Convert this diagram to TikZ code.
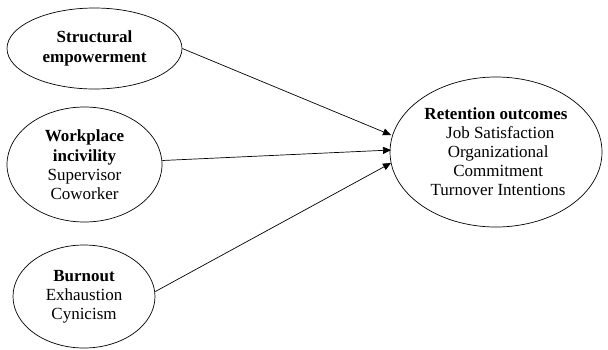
\documentclass[tikz,border=0pt]{standalone}
\usepackage{fontspec}
\setmainfont{Liberation Serif}
\usetikzlibrary{shapes.geometric,arrows.meta}
\begin{document}
\begin{tikzpicture}[x=1pt,y=-1pt,
  oval/.style={draw,ellipse,line width=0.7pt,inner sep=0pt,align=center,
    font=\fontsize{17}{19}\selectfont},
  link/.style={line width=0.7pt,-{Triangle[length=8pt,width=7pt]}}]
\useasboundingbox (0,0) rectangle (608,349);
\node[oval,minimum width=175pt,minimum height=81pt] (se) at (94.5,48.5)
  {\textbf{Structural}\\[1pt]\textbf{empowerment}};
\node[oval,minimum width=155pt,minimum height=115pt] (wi) at (84.5,164.5)
  {\textbf{Workplace}\\[1pt]\textbf{incivility}\\Supervisor\\Coworker};
\node[oval,minimum width=142pt,minimum height=103pt] (bo) at (84,296.5)
  {\textbf{Burnout}\\Exhaustion\\Cynicism};
\node[oval,minimum width=212pt,minimum height=150pt] (ro) at (496,152)
  {\textbf{Retention outcomes}\\\ \ Job Satisfaction\\\ Organizational\\\ Commitment\\\ Turnover Intentions};
\coordinate (t1) at (391,135);
\coordinate (t2) at (391,150);
\coordinate (t3) at (391,163);
\draw[link] (se.east) -- (t1);
\draw[link] (wi.east) ++(0,-4) -- (t2);
\draw[link] (bo.east) ++(0,-5) -- (t3);
\end{tikzpicture}
\end{document}
